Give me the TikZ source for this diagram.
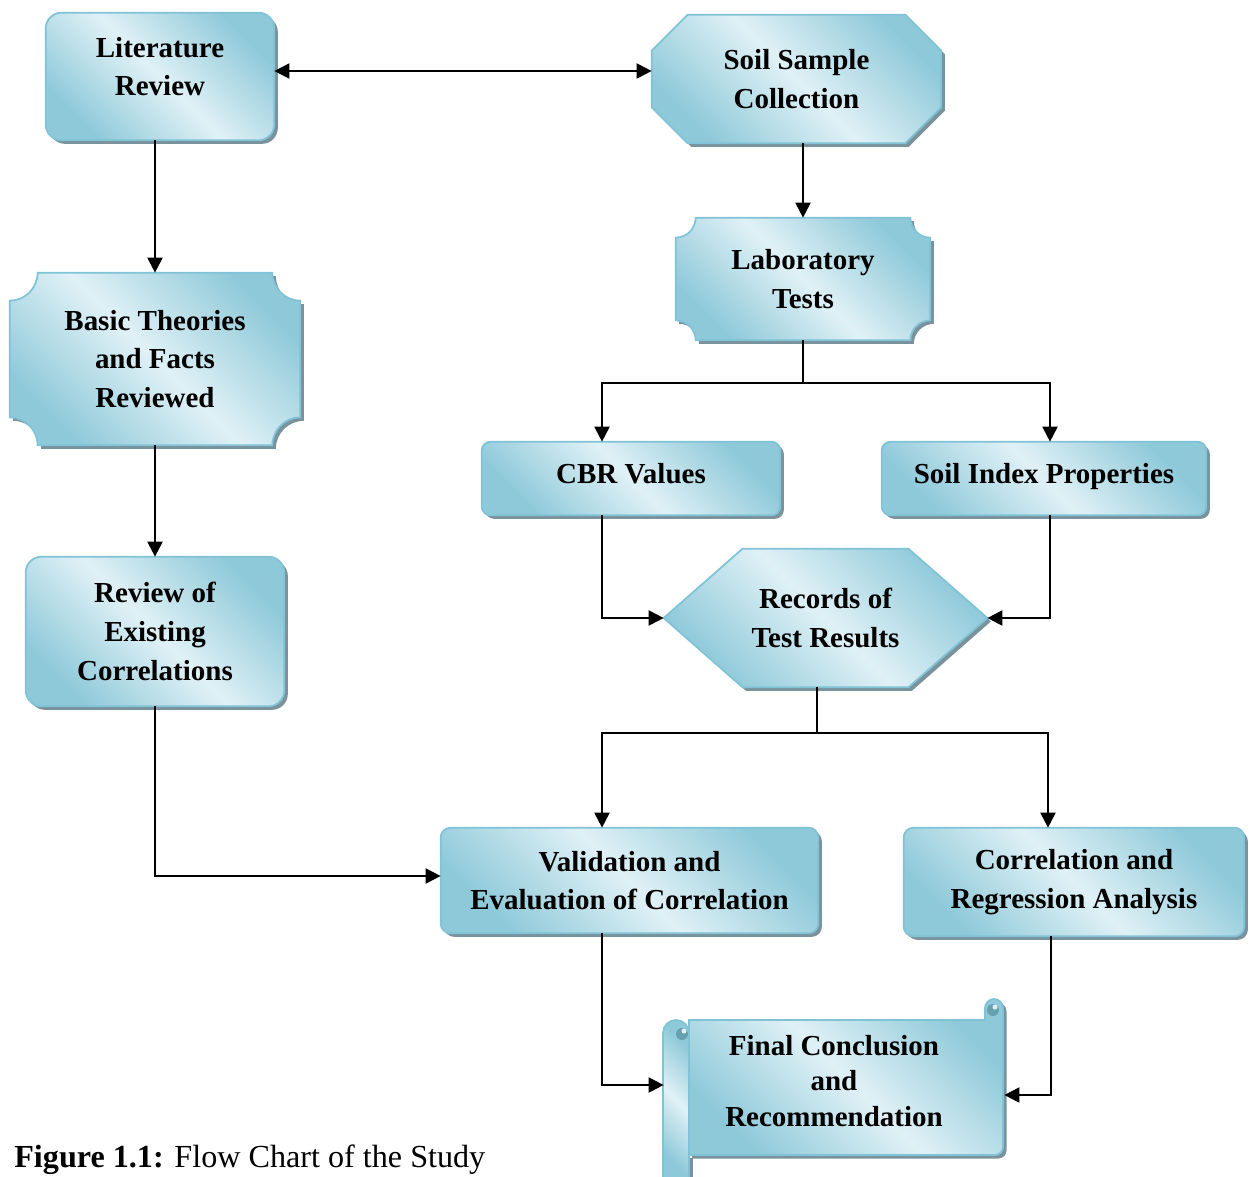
\documentclass[tikz,border=0pt]{standalone}
\usepackage{fontspec}
\setmainfont{Liberation Serif}
\usetikzlibrary{arrows.meta,fit,backgrounds,calc}
\definecolor{dk}{RGB}{142,201,217}
\definecolor{lt}{RGB}{224,241,246}
\definecolor{bordc}{RGB}{128,195,214}
\definecolor{shadc}{RGB}{122,146,156}
\definecolor{curlc}{RGB}{104,160,176}
\tikzset{
  box/.style={inner sep=0pt},
  txt/.style={inner sep=0pt, align=center, font=\bfseries\fontsize{16.5}{22}\selectfont},
  shp/.style={draw=bordc, line width=1pt, left color=dk, right color=dk, middle color=lt, shading angle=-45},
  shd/.style={fill=shadc, draw=none},
  ln/.style={line width=1.15pt},
  arr/.style={ln, ->},
  >={Triangle[length=0.3cm,width=0.3cm]},
}
\def\sh{0.07cm}
\newcommand\drawrr[2]{%
  \path[shd,rounded corners=#2] ($(#1.south west)+(\sh,-\sh)$) rectangle ($(#1.north east)+(\sh,-\sh)$);
  \path[shp,rounded corners=#2] (#1.south west) rectangle (#1.north east);}
\newcommand\octpath[4]{\path[#4] let \p1=($(#1.south west)+(#3,-#3)$), \p2=($(#1.north east)+(#3,-#3)$) in
  ({\x1+#2},\y1) -- ({\x2-#2},\y1) -- (\x2,{\y1+#2}) -- (\x2,{\y2-#2}) -- ({\x2-#2},\y2) -- ({\x1+#2},\y2) -- (\x1,{\y2-#2}) -- (\x1,{\y1+#2}) -- cycle;}
\newcommand\hexpath[4]{\path[#4] let \p1=($(#1.south west)+(#3,-#3)$), \p2=($(#1.north east)+(#3,-#3)$) in
  (\x1,{(\y1+\y2)/2}) -- ({\x1+#2},\y1) -- ({\x2-#2},\y1) -- (\x2,{(\y1+\y2)/2}) -- ({\x2-#2},\y2) -- ({\x1+#2},\y2) -- cycle;}
\newcommand\plqpath[4]{\path[#4] let \p1=($(#1.south west)+(#3,-#3)$), \p2=($(#1.north east)+(#3,-#3)$) in
  (\x1,{\y1+#2}) arc[start angle=90,end angle=0,radius=#2] -- ({\x2-#2},\y1) arc[start angle=180,end angle=90,radius=#2]
  -- (\x2,{\y2-#2}) arc[start angle=270,end angle=180,radius=#2] -- ({\x1+#2},\y2) arc[start angle=0,end angle=-90,radius=#2] -- cycle;}
\begin{document}
\begin{tikzpicture}[x=0.02cm,y=0.02cm]
\useasboundingbox (0,0) rectangle (1249,-1177);
% ---------- node outlines ----------
\node[box, fit={(46,-13) (274,-140)}] (lit) {};
\node[box, fit={(652,-15) (941,-143)}] (soil) {};
\node[box, fit={(676,-218) (930,-340)}] (lab) {};
\node[box, fit={(10,-273) (300,-445)}] (basic) {};
\node[box, fit={(26,-557) (284,-706)}] (rev) {};
\node[box, fit={(482,-442) (780,-515)}] (cbr) {};
\node[box, fit={(882,-442) (1206,-515)}] (sip) {};
\node[box, fit={(664,-549) (987,-687)}] (rec) {};
\node[box, fit={(441,-828) (818,-933)}] (val) {};
\node[box, fit={(904,-828) (1244,-936)}] (cor) {};
\node[box, fit={(664,-1000) (1004,-1162)}] (fin) {};
% ---------- texts ----------
\node[txt] (littxt) at ([yshift=0.2cm]lit.center) {Literature\\Review};
\node[txt] (soiltxt) at (soil.center) {Soil Sample\\Collection};
\node[txt] (labtxt) at (lab.center) {Laboratory\\Tests};
\node[txt] (basictxt) at (basic.center) {Basic Theories\\and Facts\\Reviewed};
\node[txt] (revtxt) at (rev.center) {Review of\\Existing\\Correlations};
\node[txt] (cbrtxt) at ([yshift=0.1cm]cbr.center) {CBR Values};
\node[txt] (siptxt) at ([yshift=0.04cm]sip.center) {Soil Index Properties};
\node[txt] (rectxt) at (rec.center) {Records of\\Test Results};
\node[txt] (valtxt) at (val.center) {Validation and\\Evaluation of Correlation};
\node[txt] (cortxt) at (cor.center) {Correlation and\\Regression Analysis};
\node[txt, font=\bfseries\fontsize{16.5}{20}\selectfont] (fintxt) at (fin.center) {Final Conclusion\\and\\Recommendation};
\node[anchor=base west, inner sep=0pt, font=\fontsize{18.3}{22}\selectfont] (cap) at (14,-1167) {\textbf{Figure 1.1:} Flow Chart of the Study};
% ---------- shapes ----------
\begin{scope}[on background layer]
  \drawrr{lit}{0.32cm}
  \octpath{soil}{0.72cm}{\sh}{shd}\octpath{soil}{0.72cm}{0pt}{shp}
  \plqpath{lab}{0.4cm}{\sh}{shd}\plqpath{lab}{0.4cm}{0pt}{shp}
  \plqpath{basic}{0.56cm}{\sh}{shd}\plqpath{basic}{0.56cm}{0pt}{shp}
  \drawrr{rev}{0.32cm}
  \drawrr{cbr}{0.18cm}
  \drawrr{sip}{0.18cm}
  \hexpath{rec}{1.58cm}{\sh}{shd}\hexpath{rec}{1.58cm}{0pt}{shp}
  \drawrr{val}{0.2cm}
  \drawrr{cor}{0.2cm}
  % scroll
  \path[shd] (692,-1158.5) -- (692,-1023.5) -- (988.5,-1023.5) -- (988.5,-1011.5) arc[start angle=180,end angle=0,radius=0.18cm]
     -- (1006.5,-1150.5) arc[start angle=0,end angle=-90,radius=0.16cm] -- cycle;
  \path[shp] (689,-1155) -- (689,-1020) -- (985,-1020) -- (985,-1008) arc[start angle=180,end angle=0,radius=0.18cm]
     -- (1003,-1147) arc[start angle=0,end angle=-90,radius=0.16cm] -- cycle;
  \fill[curlc] (993,-1010) circle (0.12cm);
  \fill[lt] (995,-1007) circle (0.05cm);
  \path[shd] (693,-1177) -- (693,-1158) -- (689,-1158) -- (689,-1177) -- cycle;
  \path[shp] (663,-1180) -- (663,-1033) arc[start angle=180,end angle=0,radius=0.26cm] -- (689,-1180) -- cycle;
  \fill[curlc] (682,-1034) circle (0.12cm);
  \fill[lt] (684,-1031) circle (0.05cm);
\end{scope}
% ---------- connectors ----------
\draw[ln,<->] ([yshift=0.11cm]lit.east) -- ([yshift=0.11cm]lit.east -| soil.west);
\draw[arr] (basic.north |- lit.south) -- (basic.north);
\draw[arr] (basic.south) -- (rev.north);
\draw[arr] (rev.south) |- ([yshift=0.09cm]val.west);
\draw[arr] (lab.north |- soil.south) -- (lab.north);
\coordinate (s1) at ($(lab.south)+(0,-0.86cm)$);
\draw[ln] (lab.south) -- (s1);
\draw[arr] (s1) -| ([xshift=-0.58cm]cbr.north);
\draw[arr] (s1) -| ([xshift=0.12cm]sip.north);
\draw[arr] ([xshift=-0.58cm]cbr.south) |- (rec.west);
\draw[arr] ([xshift=0.12cm]sip.south) |- (rec.east);
\coordinate (s2) at ($([xshift=-0.17cm]rec.south)+(0,-0.92cm)$);
\draw[ln] ([xshift=-0.17cm]rec.south) -- (s2);
\draw[arr] (s2) -| ([xshift=-0.55cm]val.north);
\draw[arr] (s2) -| ([xshift=-0.52cm]cor.north);
\draw[arr] ([xshift=-0.55cm]val.south) |- ([yshift=-0.08cm]fin.west);
\draw[arr] ([xshift=-0.46cm]cor.south) |- ([yshift=-0.28cm]fin.east);
\end{tikzpicture}
\end{document}
